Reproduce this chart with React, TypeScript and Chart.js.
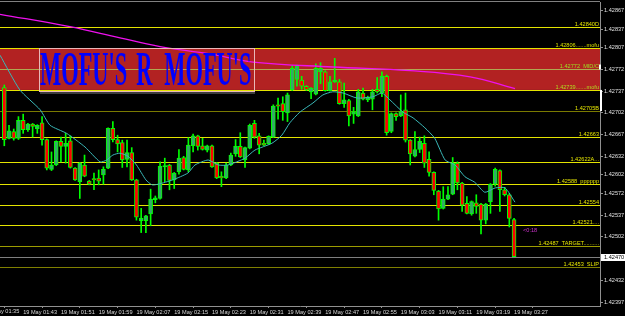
import React, { useEffect, useRef } from "react";
import { Chart, registerables } from "chart.js";

Chart.register(...registerables);

// ---------- data (M1 candles, 19 May 01:39 -> 03:27) ----------
const openP = [
  1.42743, 1.42661, 1.42672, 1.42661, 1.4269, 1.42675, 1.42684, 1.42676, 1.42686, 1.42659,
  1.42611, 1.42618, 1.42656, 1.42648, 1.42657, 1.42613, 1.42591, 1.42618, 1.42592, 1.42596,
  1.42597, 1.42602, 1.42613, 1.42677, 1.42659, 1.42654, 1.42627, 1.42638, 1.42594, 1.42528,
  1.42528, 1.42539, 1.42562, 1.42564, 1.42615, 1.42618, 1.42594, 1.42607, 1.4263, 1.4261,
  1.42649, 1.42665, 1.42649, 1.42642, 1.42649, 1.42621, 1.426, 1.42597, 1.42618, 1.42636,
  1.42648, 1.42626, 1.42645, 1.42685, 1.42665, 1.42653, 1.42652, 1.42663, 1.42715, 1.42717,
  1.42702, 1.42739, 1.42756, 1.42755, 1.42745, 1.42736, 1.42732, 1.42768, 1.42768, 1.42738,
  1.42752, 1.42752, 1.42717, 1.42722, 1.427, 1.42697, 1.42734, 1.42723, 1.42724, 1.4274,
  1.42734, 1.42761, 1.42672, 1.42701, 1.42697, 1.42707, 1.42658, 1.42632, 1.42643, 1.42653,
  1.42627, 1.42606, 1.42576, 1.42548, 1.42563, 1.42571, 1.42621, 1.42589, 1.42556, 1.42539,
  1.42557, 1.42555, 1.42529, 1.42559, 1.42587, 1.42609, 1.42578, 1.4257, 1.4253,
];
const highP = [
  1.42747, 1.42682, 1.42676, 1.42696, 1.427, 1.42685, 1.42685, 1.42683, 1.42696, 1.4266,
  1.42639, 1.42657, 1.42663, 1.42669, 1.42665, 1.42614, 1.42622, 1.42634, 1.42593, 1.42605,
  1.4261, 1.42615, 1.42678, 1.42688, 1.42666, 1.42658, 1.42658, 1.42646, 1.42595, 1.42548,
  1.42537, 1.42579, 1.42568, 1.42623, 1.42629, 1.42619, 1.42606, 1.42643, 1.42632, 1.42662,
  1.42668, 1.42666, 1.42661, 1.4265, 1.4265, 1.42622, 1.42607, 1.42621, 1.42637, 1.42659,
  1.4267, 1.42647, 1.42684, 1.4269, 1.42669, 1.42658, 1.42665, 1.42715, 1.42726, 1.42728,
  1.42734, 1.42778, 1.42779, 1.42761, 1.42746, 1.42743, 1.42781, 1.42783, 1.4277, 1.42761,
  1.4279, 1.42756, 1.4275, 1.42724, 1.42711, 1.4274, 1.42742, 1.42729, 1.4274, 1.42759,
  1.42768, 1.42763, 1.42702, 1.42702, 1.42731, 1.42734, 1.42659, 1.42672, 1.42663, 1.42665,
  1.42639, 1.42607, 1.42577, 1.42583, 1.42583, 1.4263, 1.42623, 1.4259, 1.42567, 1.4256,
  1.4257, 1.42556, 1.42556, 1.42588, 1.42613, 1.4261, 1.42582, 1.42572, 1.42532,
];
const lowP = [
  1.42649, 1.4266, 1.42658, 1.42659, 1.42669, 1.42672, 1.42663, 1.42669, 1.4265, 1.4261,
  1.42609, 1.42617, 1.42623, 1.42621, 1.42613, 1.42593, 1.42564, 1.42599, 1.42586, 1.42578,
  1.42586, 1.42587, 1.42612, 1.42655, 1.42639, 1.42614, 1.42615, 1.42593, 1.42529, 1.42509,
  1.42509, 1.4252, 1.42557, 1.42563, 1.42591, 1.42578, 1.4258, 1.42603, 1.4261, 1.42607,
  1.42639, 1.42642, 1.42642, 1.42639, 1.42614, 1.42596, 1.42583, 1.42596, 1.42617, 1.42632,
  1.4263, 1.42614, 1.42644, 1.42661, 1.42636, 1.42649, 1.42651, 1.42662, 1.42692, 1.4269,
  1.42688, 1.42738, 1.42745, 1.4274, 1.42738, 1.42725, 1.42731, 1.42749, 1.42737, 1.42737,
  1.42751, 1.42716, 1.42711, 1.42681, 1.42685, 1.42696, 1.42723, 1.4272, 1.42707, 1.42734,
  1.42728, 1.42666, 1.4267, 1.4269, 1.42696, 1.42655, 1.42618, 1.42631, 1.42638, 1.42614,
  1.426, 1.4257, 1.42529, 1.42547, 1.42562, 1.4257, 1.42578, 1.42543, 1.42539, 1.42537,
  1.4254, 1.42507, 1.42523, 1.4254, 1.42584, 1.42543, 1.42568, 1.42518, 1.4247,
];
const closeP = [
  1.42659, 1.42673, 1.42661, 1.4269, 1.42675, 1.42684, 1.4268, 1.42682, 1.42659, 1.42613,
  1.42618, 1.42656, 1.42648, 1.42653, 1.42614, 1.42594, 1.42621, 1.426, 1.42587, 1.42594,
  1.42592, 1.42611, 1.42677, 1.42659, 1.42652, 1.42626, 1.42638, 1.42594, 1.42534, 1.42532,
  1.42536, 1.42563, 1.42565, 1.42616, 1.42617, 1.42593, 1.42605, 1.42629, 1.42611, 1.4265,
  1.42665, 1.42648, 1.42643, 1.42649, 1.42615, 1.42597, 1.42597, 1.42618, 1.42634, 1.42648,
  1.42631, 1.42646, 1.42682, 1.42663, 1.4265, 1.4265, 1.42664, 1.42713, 1.42713, 1.42704,
  1.42731, 1.42774, 1.42778, 1.42745, 1.42739, 1.42742, 1.42774, 1.42774, 1.42738, 1.42752,
  1.42755, 1.42717, 1.42723, 1.42697, 1.42704, 1.42736, 1.42724, 1.42727, 1.42736, 1.42736,
  1.42761, 1.4267, 1.42701, 1.42696, 1.42704, 1.42658, 1.42636, 1.42643, 1.42656, 1.42621,
  1.42606, 1.42577, 1.42547, 1.42563, 1.4257, 1.42621, 1.42589, 1.42553, 1.4254, 1.42559,
  1.42551, 1.42529, 1.42555, 1.42587, 1.42611, 1.42578, 1.4257, 1.42532, 1.4247,
];

// fast moving average (cyan): bar index -> price
const fastMaIdx = [
  -0.9, 3.3, 7.6, 9.7, 13.2, 17.1, 20.3, 21.7, 23.0, 24.5, 26.2, 28.0, 30.0, 31.3, 32.6, 35.7,
  38.9, 40.4, 43.2, 45.3, 47.4, 51.0, 53.1, 56.7, 58.8, 60.5, 62.6, 65.4, 67.5, 69.6, 71.8,
  74.7, 78.1, 80.0, 81.7, 84.5, 86.6, 89.1, 91.2, 93.4, 95.5, 97.6, 99.7, 101.8, 104.0, 106.1, 108.2,
];
const fastMaVal = [
  1.42795, 1.42739, 1.42707, 1.42682, 1.42669, 1.42647, 1.42623, 1.42626, 1.42634, 1.42637,
  1.42632, 1.42618, 1.42594, 1.42586, 1.42587, 1.42594, 1.42605, 1.42618, 1.42626, 1.42618,
  1.42618, 1.42629, 1.42642, 1.42653, 1.42666, 1.42686, 1.42703, 1.42718, 1.42731, 1.42736,
  1.42734, 1.42726, 1.42728, 1.42734, 1.42723, 1.42703, 1.42694, 1.42678, 1.42661, 1.42626,
  1.42618, 1.42599, 1.4259, 1.42574, 1.42581, 1.42581, 1.42558,
];
// slow moving average (magenta)
const slowMaIdx = [-0.9, 13.9, 24.5, 33.0, 43.6, 52.7, 69.6, 86.0, 98.7, 108.2];
const slowMaVal = [1.42861, 1.42841, 1.42823, 1.42809, 1.42797, 1.42784, 1.42776, 1.4277, 1.4276, 1.42741];

// axes
const yTickVals = [
  1.42867, 1.42837, 1.42807, 1.42772, 1.42737, 1.42702, 1.42667, 1.42632, 1.42602, 1.42572,
  1.42537, 1.42502, 1.42432, 1.42397,
];
const timeTickIdx = [4, 12, 20, 28, 36, 44, 52, 60, 68, 76, 84, 92, 100, 108];
const timeLabels = [
  "19 May 01:43", "19 May 01:51", "19 May 01:59", "19 May 02:07",
  "19 May 02:15", "19 May 02:23", "19 May 02:31", "19 May 02:39", "19 May 02:47",
  "19 May 02:55", "19 May 03:03", "19 May 03:11", "19 May 03:19", "19 May 03:27",
];
const firstTimeIdx = -4;
const firstTimeLabel = "19 May 01:35";

// horizontal levels
const levelPrices = [
  1.4284, 1.42806, 1.42772, 1.42739, 1.42705, 1.42663, 1.42622, 1.42588, 1.42554, 1.42521,
  1.42487, 1.42453,
];
const levelLabels = [
  "1.42840D", "1.42806.......mofu", "1.42772  MID/C", "1.42739.......mofu", "1.42705B",
  "1.42663", "1.42622A...", "1.42588  pppppp", "1.42554", "1.42521....",
  "1.42487  TARGET..........", "1.42453  SLIP",
];
const zoneTop = 1.42806;
const zoneBottom = 1.42739;
const currentPrice = 1.4247;
const bannerWords = ["MOFU'S", "R", "MOFU'S"];
const countdownText = "<0:18";

// ---------- styles ----------
const X_MIN = -0.91;
const X_MAX = 126.21;
const Y_MIN = 1.423906;
const Y_MAX = 1.428808;
const BULL = "#35a86a";
const BEAR = "#ff0000";
const OUTLINE = "#00ff00";
const FONT_FAMILY = '"Liberation Sans", Arial, sans-serif';
const SMALL_FONT = "5.6px " + FONT_FAMILY;
// banner word placement as fractions of the banner box width
const bannerWordStart = [0.005, 0.452, 0.583];
const bannerWordWidth = 0.405;
const levelLineColor = [
  "#e4e400", "#e4e400", "#b0a850", "#e4e400", "#7a7a00", "#e4e400", "#e4e400", "#e4e400",
  "#e4e400", "#e4e400", "#9c9c00", "#808000",
];
const levelTextColor = [
  "#e4e400", "#d8e000", "#9ce020", "#b0dc20", "#e4e400", "#e4e400", "#e4e400", "#e4e400",
  "#e4e400", "#e4e400", "#e4e400", "#e4e400",
];

const backgroundPlugin = {
  id: "mtBackground",
  beforeDraw(chart: any) {
    const { ctx, chartArea: a, scales } = chart;
    const y = scales.y;
    ctx.save();
    ctx.fillStyle = "#000";
    ctx.fillRect(0, 0, chart.width, chart.height);
    const zt = y.getPixelForValue(zoneTop);
    const zb = y.getPixelForValue(zoneBottom);
    ctx.fillStyle = "#b22222";
    ctx.fillRect(a.left, zt, a.right - a.left, zb - zt);
    const cp = Math.round(y.getPixelForValue(currentPrice)) + 0.5;
    ctx.strokeStyle = "#7f7f7f";
    ctx.lineWidth = 1;
    ctx.beginPath();
    ctx.moveTo(a.left, cp);
    ctx.lineTo(a.right, cp);
    ctx.stroke();
    ctx.font = SMALL_FONT;
    ctx.textAlign = "right";
    ctx.textBaseline = "alphabetic";
    levelPrices.forEach((p, k) => {
      const py = Math.round(y.getPixelForValue(p)) + 0.5;
      ctx.strokeStyle = levelLineColor[k];
      ctx.beginPath();
      ctx.moveTo(a.left, py);
      ctx.lineTo(a.right, py);
      ctx.stroke();
      ctx.fillStyle = levelTextColor[k];
      ctx.fillText(levelLabels[k], a.right - 1, py - 1.5);
    });
    ctx.strokeStyle = "#808080";
    ctx.beginPath();
    ctx.moveTo(a.left, 1.5);
    ctx.lineTo(a.right, 1.5);
    ctx.stroke();
    ctx.restore();
  },
  afterDatasetsDraw(chart: any) {
    const { ctx, scales } = chart;
    const x = scales.x;
    const y = scales.y;
    ctx.save();
    const bl = Math.round(x.getPixelForValue(7.35));
    const br = Math.round(x.getPixelForValue(52.9));
    const bt = Math.round(y.getPixelForValue(zoneTop));
    const bb = Math.round(y.getPixelForValue(1.427365));
    ctx.fillStyle = "#3c3c3c";
    ctx.fillRect(bl + 1, bb + 1, br - bl, 2);
    ctx.strokeStyle = "#e8b8b8";
    ctx.lineWidth = 1;
    ctx.strokeRect(bl + 0.5, bt + 0.5, br - bl, bb - bt);
    ctx.font = 'bold 48px "Liberation Serif", "Times New Roman", serif';
    ctx.textAlign = "left";
    ctx.textBaseline = "alphabetic";
    ctx.fillStyle = "#0000ff";
    const bw = br - bl;
    const sx = (bw * bannerWordWidth) / ctx.measureText(bannerWords[0]).width;
    bannerWords.forEach((word, k) => {
      ctx.save();
      ctx.translate(bl + bw * bannerWordStart[k], bb - 6);
      ctx.scale(sx, 1);
      ctx.fillText(word, 0, 0);
      ctx.restore();
    });
    ctx.restore();
  },
  afterDraw(chart: any) {
    const { ctx, chartArea: a, scales } = chart;
    const x = scales.x;
    const y = scales.y;
    ctx.save();
    // partially visible first time label
    const fx = x.getPixelForValue(firstTimeIdx);
    ctx.font = SMALL_FONT;
    ctx.fillStyle = "#d8d8d8";
    ctx.textAlign = "left";
    ctx.textBaseline = "top";
    ctx.fillText(firstTimeLabel, fx, a.bottom + 3);
    // current price tag
    const cp = Math.round(y.getPixelForValue(currentPrice));
    ctx.fillStyle = "#ffffff";
    ctx.fillRect(a.right + 1, cp - 3, chart.width - a.right - 1, 7);
    ctx.fillStyle = "#000000";
    ctx.textBaseline = "middle";
    ctx.fillText("1.42470", a.right + 4, cp + 0.5);
    // object marks on the price axis
    ctx.fillStyle = "#ffffff";
    const m1 = y.getPixelForValue(1.42739);
    const m2 = y.getPixelForValue(1.42705);
    ctx.fillRect(a.right, m1, 2, m2 - m1);
    const m3 = y.getPixelForValue(1.4278);
    const m4 = y.getPixelForValue(1.42772);
    ctx.fillRect(a.right - 1, m3, 2, m4 - m3);
    // candle countdown
    ctx.fillStyle = "#cc33cc";
    ctx.fillText(countdownText, x.getPixelForValue(109.9), y.getPixelForValue(1.42513));
    ctx.restore();
  },
};

export default function App() {
  const ref = useRef<HTMLCanvasElement>(null);
  useEffect(() => {
    document.body.style.margin = "0";
    document.body.style.background = "#000";
    const canvas = ref.current!;
    const idx = openP.map((_, i) => i);
    const chart = new Chart(canvas, {
      type: "bar",
      data: {
        datasets: [
          {
            type: "line",
            data: slowMaIdx.map((v, i) => ({ x: v, y: slowMaVal[i] })),
            borderColor: "#ee11ee",
            borderWidth: 1.3,
            pointRadius: 0,
            tension: 0.4,
            order: 0,
          } as any,
          {
            type: "line",
            data: fastMaIdx.map((v, i) => ({ x: v, y: fastMaVal[i] })),
            borderColor: "#3ab8b8",
            borderWidth: 1,
            pointRadius: 0,
            tension: 0.2,
            order: 0,
          } as any,
          {
            type: "bar",
            data: idx.map((i) => ({ x: i, y: [openP[i], closeP[i]] })),
            backgroundColor: idx.map((i) => (closeP[i] >= openP[i] ? BULL : BEAR)),
            borderColor: OUTLINE,
            borderWidth: 1,
            borderSkipped: false,
            barThickness: 4,
            minBarLength: 1,
            grouped: false,
            order: 1,
          } as any,
          {
            type: "bar",
            data: idx.map((i) => ({ x: i, y: [lowP[i], highP[i]] })),
            backgroundColor: OUTLINE,
            borderWidth: 0,
            barThickness: 1,
            grouped: false,
            order: 2,
          } as any,
        ],
      },
      options: {
        responsive: false,
        animation: false,
        events: [],
        layout: { padding: { top: 2, left: 0, right: 0, bottom: 0 }, autoPadding: false } as any,
        plugins: { legend: { display: false }, tooltip: { enabled: false } },
        scales: {
          x: {
            type: "linear",
            min: X_MIN,
            max: X_MAX,
            offset: false,
            position: "bottom",
            afterFit: (s: any) => {
              s.height = 10;
              s.paddingLeft = 0;
              s.paddingRight = 0;
            },
            afterBuildTicks: (s: any) => {
              s.ticks = timeTickIdx.map((v) => ({ value: v }));
            },
            grid: { drawOnChartArea: false, drawTicks: true, tickLength: 2, color: "#909090" },
            border: { display: true, color: "#909090" },
            ticks: {
              autoSkip: false,
              maxRotation: 0,
              minRotation: 0,
              align: "start",
              padding: 1,
              color: "#d8d8d8",
              font: { size: 5.6, family: FONT_FAMILY },
              callback: (_v: any, i: number) => timeLabels[i],
            },
          } as any,
          y: {
            type: "linear",
            position: "right",
            min: Y_MIN,
            max: Y_MAX,
            beginAtZero: false,
            afterFit: (s: any) => {
              s.width = 25;
              s.paddingTop = 0;
              s.paddingBottom = 0;
            },
            afterBuildTicks: (s: any) => {
              s.ticks = yTickVals.map((v) => ({ value: v }));
            },
            grid: { drawOnChartArea: false, drawTicks: true, tickLength: 3, color: "#909090" },
            border: { display: true, color: "#909090" },
            ticks: {
              autoSkip: false,
              padding: 1,
              color: "#e0e0e0",
              font: { size: 5.6, family: FONT_FAMILY },
              callback: (v: any) => Number(v).toFixed(5),
            },
          } as any,
        },
      },
      plugins: [backgroundPlugin],
    });
    return () => chart.destroy();
  }, []);
  return <canvas ref={ref} width={625} height={316} style={{ display: "block" }} />;
}
